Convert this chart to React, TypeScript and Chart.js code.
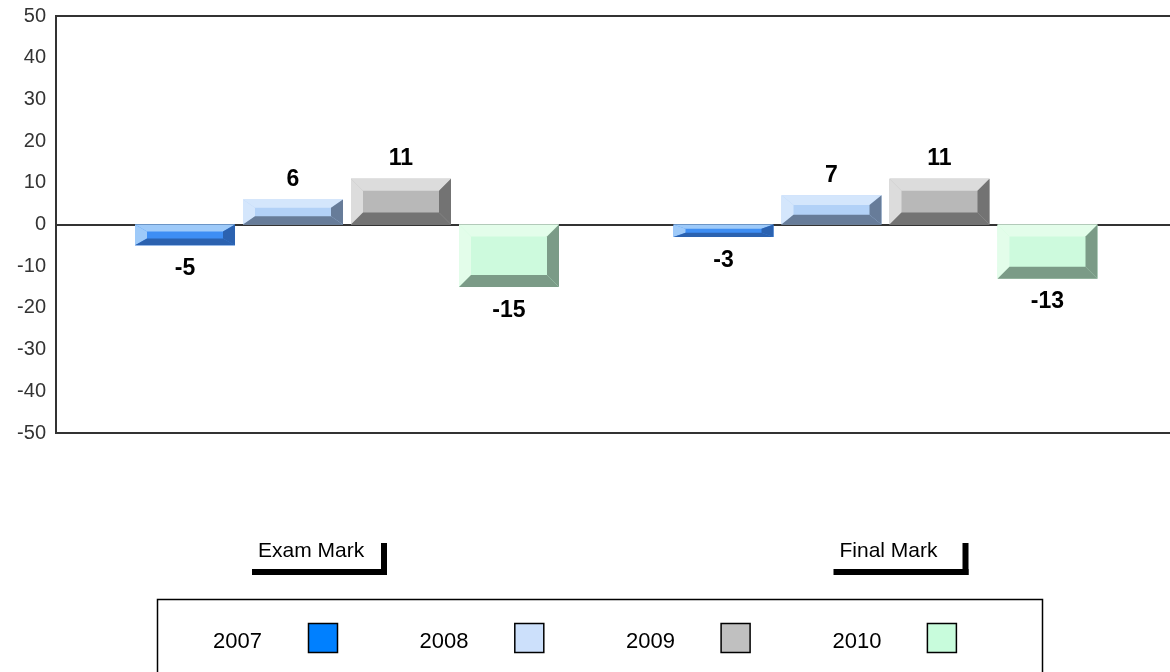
import React, { useEffect, useRef } from 'react';
import { Chart, registerables } from 'chart.js';

Chart.register(...registerables);

// ---- data ----
const categories = ['Exam Mark', 'Final Mark'];
const seriesNames = ['2007', '2008', '2009', '2010'];
const values2007 = [-5, -3];
const values2008 = [6, 7];
const values2009 = [11, 11];
const values2010 = [-15, -13];
const yTickValues = [50, 40, 30, 20, 10, 0, -10, -20, -30, -40, -50];

// ---- styles ----
const FONT = '"Liberation Sans", Arial, Helvetica, sans-serif';
const legendColors = ['#0080ff', '#cce0fb', '#c0c0c0', '#c8fcdc'];
const bevelColors = [
  { light: '#9ecaf9', face: '#3e8ef4', dark: '#2b62b0' },
  { light: '#d4e6fc', face: '#b2d1f7', dark: '#677c99' },
  { light: '#dcdcdc', face: '#b8b8b8', dark: '#737373' },
  { light: '#e3fdea', face: '#cdfadd', dark: '#7b9b87' },
];
const categoryLabelOffsets = [-95, -52];
const AXIS_LEFT = 56; // x of the plot frame's left edge
const AREA_LEFT = 77.75; // start of first category band
const AREA_RIGHT_PAD = 15.25;

function poly(ctx: CanvasRenderingContext2D, pts: number[][], color: string) {
  ctx.beginPath();
  ctx.moveTo(pts[0][0], pts[0][1]);
  for (let i = 1; i < pts.length; i++) ctx.lineTo(pts[i][0], pts[i][1]);
  ctx.closePath();
  ctx.fillStyle = color;
  ctx.fill();
}

const customPlugin = {
  id: 'customBevel',
  beforeDatasetsDraw(chart: any) {
    const { ctx, chartArea, scales } = chart;
    ctx.save();
    ctx.strokeStyle = '#333333';
    ctx.lineWidth = 2;
    const y0 = Math.round(scales.y.getPixelForValue(0));
    ctx.beginPath();
    ctx.moveTo(AXIS_LEFT, y0);
    ctx.lineTo(chart.width, y0);
    ctx.stroke();
    ctx.beginPath();
    ctx.moveTo(chart.width, chartArea.top);
    ctx.lineTo(AXIS_LEFT, chartArea.top);
    ctx.lineTo(AXIS_LEFT, chartArea.bottom);
    ctx.lineTo(chart.width, chartArea.bottom);
    ctx.stroke();
    ctx.restore();
  },
  afterDatasetsDraw(chart: any) {
    const { ctx } = chart;
    ctx.save();
    chart.data.datasets.forEach((ds: any, di: number) => {
      const meta = chart.getDatasetMeta(di);
      const col = bevelColors[di];
      meta.data.forEach((bar: any, i: number) => {
        const { x, y, base, width } = bar.getProps(['x', 'y', 'base', 'width'], true);
        const left = x - width / 2;
        const right = x + width / 2;
        const top = Math.min(y, base);
        const bottom = Math.max(y, base);
        const h = bottom - top;
        const w = right - left;
        const bh = Math.min(12, w / 2);
        const bv = Math.min(12, h / 3);
        ctx.fillStyle = col.face;
        ctx.fillRect(left, top, w, h);
        poly(ctx, [[left, top], [right, top], [right - bh, top + bv], [left + bh, top + bv]], col.light);
        poly(ctx, [[left, top], [left + bh, top + bv], [left + bh, bottom - bv], [left, bottom]], col.light);
        poly(ctx, [[right, top], [right, bottom], [right - bh, bottom - bv], [right - bh, top + bv]], col.dark);
        poly(ctx, [[left, bottom], [right, bottom], [right - bh, bottom - bv], [left + bh, bottom - bv]], col.dark);
        const v = ds.data[i];
        ctx.fillStyle = '#000000';
        ctx.font = 'bold 23px ' + FONT;
        ctx.textAlign = 'center';
        ctx.textBaseline = 'alphabetic';
        if (v >= 0) {
          ctx.fillText(String(v), x, top - 13.5);
        } else {
          ctx.fillText(String(v), x, bottom + 29.5);
        }
      });
    });
    ctx.restore();
  },
  afterDraw(chart: any) {
    const { ctx, scales } = chart;
    ctx.save();
    categories.forEach((name, i) => {
      const bx = scales.x.getPixelForValue(i) + categoryLabelOffsets[i];
      ctx.fillStyle = '#000000';
      ctx.font = '21px ' + FONT;
      ctx.textAlign = 'left';
      ctx.textBaseline = 'alphabetic';
      ctx.fillText(name, bx + 6, 557);
      ctx.fillRect(bx, 569, 135, 6);
      ctx.fillRect(bx + 129, 543, 6, 32);
    });
    ctx.strokeStyle = '#000000';
    ctx.lineWidth = 1.5;
    ctx.strokeRect(157.5, 599.5, 885, 120);
    seriesNames.forEach((name, i) => {
      const tx = 213 + i * 206.5;
      ctx.fillStyle = '#000000';
      ctx.font = '22px ' + FONT;
      ctx.textAlign = 'left';
      ctx.textBaseline = 'alphabetic';
      ctx.fillText(name, tx, 648);
      const sx = 308.5 + i * 206.3;
      ctx.fillStyle = legendColors[i];
      ctx.fillRect(sx, 623.5, 29, 29);
      ctx.lineWidth = 1.5;
      ctx.strokeStyle = '#000000';
      ctx.strokeRect(sx, 623.5, 29, 29);
    });
    ctx.restore();
  },
};

export default function App() {
  const ref = useRef<HTMLCanvasElement | null>(null);
  useEffect(() => {
    if (!ref.current) return;
    const seriesValues = [values2007, values2008, values2009, values2010];
    const chart = new Chart(ref.current, {
      type: 'bar',
      data: {
        labels: categories,
        datasets: seriesNames.map((name, di) => ({
          label: name,
          data: seriesValues[di],
          backgroundColor: 'rgba(0,0,0,0)',
          borderWidth: 0,
          categoryPercentage: 0.8022,
          barPercentage: 0.926,
        })),
      },
      options: {
        animation: false,
        responsive: false,
        devicePixelRatio: 1,
        layout: { padding: { top: 16, left: 0, right: AREA_RIGHT_PAD, bottom: 239 } },
        plugins: { legend: { display: false }, tooltip: { enabled: false } },
        scales: {
          x: {
            display: false,
          },
          y: {
            min: -50,
            max: 50,
            afterBuildTicks: (s: any) => {
              s.ticks = yTickValues.map((v) => ({ value: v }));
            },
            afterFit: (s: any) => {
              s.width = AREA_LEFT;
              s.paddingTop = 0;
              s.paddingBottom = 0;
            },
            grid: { display: false, drawTicks: false },
            border: { display: false },
            ticks: {
              color: '#333333',
              padding: AREA_LEFT - AXIS_LEFT + 10,
              font: { family: FONT, size: 20 },
            },
          },
        },
      },
      plugins: [customPlugin],
    } as any);
    return () => chart.destroy();
  }, []);
  return (
    <div style={{ position: 'absolute', left: 0, top: 0, width: 1170, height: 672, overflow: 'hidden', background: '#fff' }}>
      <canvas ref={ref} width={1170} height={672} style={{ display: 'block' }} />
    </div>
  );
}
